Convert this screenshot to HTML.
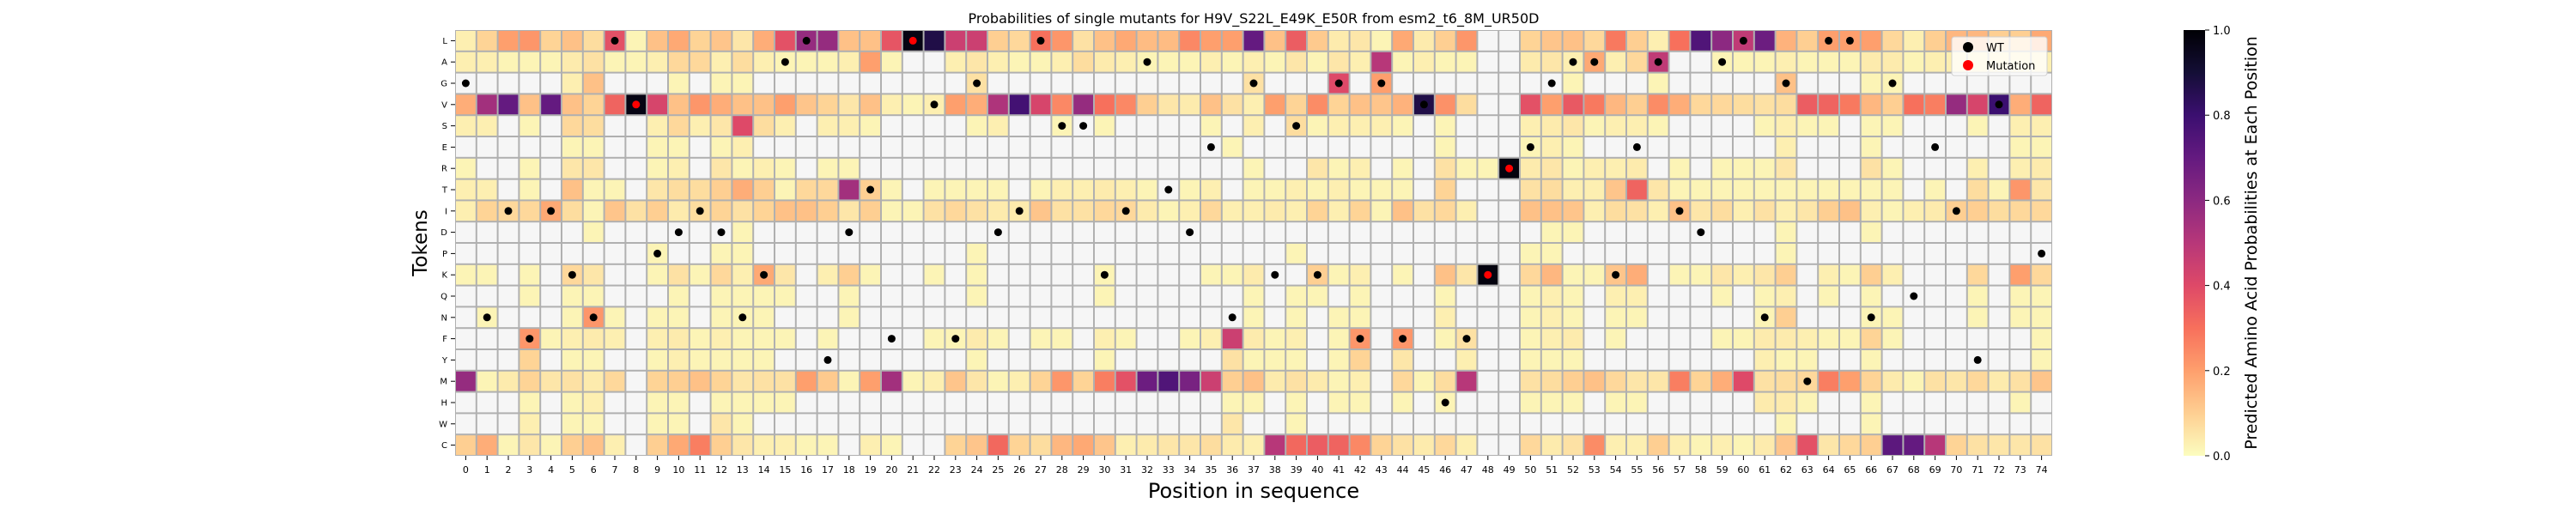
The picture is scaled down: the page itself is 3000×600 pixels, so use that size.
<!DOCTYPE html>
<html><head><meta charset="utf-8"><style>
html,body{margin:0;padding:0;background:#fff;}
svg{display:block;font-family:"DejaVu Sans","Liberation Sans",sans-serif;}
</style></head><body>
<svg id="chart" width="3000" height="600" viewBox="0 0 3000 600" xmlns="http://www.w3.org/2000/svg">
<defs>
<linearGradient id="cbgrad" x1="0" y1="1" x2="0" y2="0">
<stop offset="0" stop-color="#fcfdbf"/><stop offset="0.1" stop-color="#fecf92"/><stop offset="0.2" stop-color="#fe9f6d"/><stop offset="0.3" stop-color="#f7705c"/><stop offset="0.4" stop-color="#de4968"/><stop offset="0.5" stop-color="#b73779"/><stop offset="0.6" stop-color="#8c2981"/><stop offset="0.7" stop-color="#641a80"/><stop offset="0.8" stop-color="#3b0f70"/><stop offset="0.9" stop-color="#140e36"/><stop offset="1" stop-color="#000004"/>
</linearGradient>
</defs>
<text x="1460" y="27" font-size="16" text-anchor="middle">Probabilities of single mutants for H9V_S22L_E49K_E50R from esm2_t6_8M_UR50D</text>
<g id="cells"></g>
<g id="yaxis"></g>
<g id="xaxis"></g>
<g id="dots"></g>
<text x="0" y="0" font-size="23" text-anchor="middle" transform="translate(497,283) rotate(-90)">Tokens</text>
<text x="1460" y="580" font-size="24" text-anchor="middle">Position in sequence</text>
<g>
<rect x="2273" y="43" width="111" height="45" rx="3" fill="#fff" fill-opacity="0.8" stroke="#d0d0d0" stroke-width="1"/>
<circle cx="2292" cy="55" r="6" fill="#000"/>
<text x="2313" y="60" font-size="13">WT</text>
<circle cx="2292" cy="76" r="6" fill="#ff0000"/>
<text x="2313" y="81" font-size="13">Mutation</text>
</g>
<g id="cbar">
<rect x="2543" y="35" width="25" height="496" fill="url(#cbgrad)"/>
</g>
<text x="0" y="0" font-size="19" text-anchor="middle" transform="translate(2628,283) rotate(-90)">Predicted Amino Acid Probabilities at Each Position</text>
</svg>
<script>
const _ = null;
const tokens = ['L','A','G','V','S','E','R','T','I','D','P','K','Q','N','F','Y','M','H','W','C'];
const positions = Array.from({length:75},(v,i)=>i);
const rowL=[.03,.09,.2,.22,.09,.13,.07,.38,.02,.13,.18,.09,.12,.05,.17,.38,.58,.58,.13,.13,.37,.97,.87,.45,.45,.1,.08,.3,.22,.06,.13,.18,.14,.14,.25,.2,.2,.7,.13,.35,.11,.04,.05,.02,.18,.04,.1,.22,_,_,.09,.12,.13,.08,.28,.1,.03,.3,.75,.6,.48,.68,.16,.1,.2,.2,.2,.08,.03,.1,.15,.15,.1,.1,.18];
const rowA=[.03,.03,.02,.02,.02,.04,.06,.02,.02,.03,.08,.08,.03,.07,.03,.02,.02,.02,.03,.2,.02,_,_,.03,.05,.03,.02,.02,.03,.07,.04,.03,.02,.02,.02,.03,.02,.03,.02,.05,.02,.05,.03,.5,.02,.03,.02,.02,_,_,.04,.05,.03,.18,.03,.08,.48,_,_,.02,.02,.02,.03,.02,.02,.02,.04,.04,.02,.03,.03,.03,.03,.03,.03];
const rowG=[_,_,_,_,_,.03,.13,_,_,_,.02,_,.02,.02,_,_,_,_,_,_,_,_,_,_,.06,_,_,_,_,_,_,_,_,_,_,_,_,.06,_,_,_,.4,_,.2,_,_,_,_,_,_,_,_,.02,_,_,_,.02,_,_,_,_,_,.13,_,_,_,.02,.02,_,_,_,_,_,_,_];
const rowV=[.17,.55,.7,.13,.7,.13,.09,.33,.97,.42,.13,.22,.17,.13,.13,.2,.12,.09,.05,.13,.03,.02,.03,.2,.17,.52,.78,.42,.25,.58,.3,.25,.1,.05,.04,.13,.06,.03,.2,.09,.24,.09,.13,.12,.16,.87,.23,.07,_,_,.38,.2,.36,.28,.15,.1,.24,.17,.08,.08,.07,.06,.07,.35,.33,.28,.15,.1,.3,.27,.58,.42,.8,.17,.33];
const rowS=[.03,.03,_,.02,_,.08,.07,_,_,.03,.08,.03,.05,.4,.07,.03,_,.03,.03,.02,_,_,_,_,.02,.03,_,_,.02,_,.02,_,_,_,_,.02,_,.03,_,.07,.02,.03,.03,.03,.02,_,.02,_,_,_,.03,.04,.05,.02,.03,.03,.02,_,_,_,_,.02,.03,.02,.02,_,.02,.02,_,_,_,.02,_,.03,.03];
const rowE=[_,_,_,_,_,.02,.02,_,_,.02,.02,_,.02,.03,_,_,_,_,_,_,_,_,_,_,_,_,_,_,_,_,_,_,_,_,_,_,.02,_,_,_,_,_,_,_,_,_,.02,_,_,_,.02,.03,.02,_,_,_,_,_,_,_,_,_,.03,_,_,_,.02,_,_,_,_,_,_,.02,.02];
const rowR=[.02,_,_,.02,_,.05,.05,_,_,.02,.03,_,.05,.02,.03,.02,_,.02,.02,_,_,_,_,_,_,_,_,_,_,_,_,_,_,_,_,_,_,.02,_,_,.05,.02,.03,_,.02,_,.06,.02,.02,.98,.04,.05,.02,.03,.03,.04,_,.02,_,.02,.02,.02,.05,_,_,_,.06,.02,_,_,_,.03,_,.03,.04];
const rowT=[.03,.03,_,.02,_,.13,.02,.02,_,.05,.07,.07,.1,.17,.1,.02,.08,.08,.55,.1,.02,_,.02,.02,.02,.02,_,.02,.03,.03,.04,.03,.02,_,.02,.03,_,.02,.02,.03,.02,.03,.02,.02,.02,_,.09,_,_,_,.06,.07,.03,.03,.12,.33,.05,.02,.02,.02,.02,.02,.02,.02,.02,.02,.02,.02,_,.02,_,.07,.02,.22,.05];
const rowI=[.03,.09,.08,.08,.18,.07,.02,.12,.06,.1,.04,.07,.09,.06,.09,.13,.13,.1,.05,.1,.02,.02,.06,.08,.06,.04,.04,.12,.06,.06,.08,.08,.04,.02,.03,.08,.03,.03,.04,.03,.09,.03,.09,.02,.13,.06,.08,.03,_,_,.13,.13,.12,.03,.07,.06,.03,.13,.05,.07,.03,.06,.03,.05,.1,.13,.03,.02,.03,.04,.1,.1,.07,.08,.08];
const rowD=[_,_,_,_,_,_,.02,_,_,_,_,_,_,.02,_,_,_,_,_,_,_,_,_,_,_,_,_,_,_,_,_,_,_,_,_,_,_,_,_,_,_,_,_,_,_,_,_,_,_,_,_,.02,.02,_,_,_,_,_,_,_,_,_,.02,_,_,_,.02,_,_,_,_,_,_,_,_];
const rowP=[_,_,_,_,_,_,_,_,_,.02,_,_,.02,.02,_,_,_,_,_,_,_,_,_,_,.02,_,_,_,_,_,_,_,_,_,_,_,_,_,_,.02,_,_,_,_,_,_,_,_,_,_,.02,.02,_,_,_,_,_,_,_,_,_,_,.02,_,_,_,_,_,_,_,_,_,_,_,_];
const rowK=[.02,.02,_,.02,_,.08,.05,_,_,.02,.06,.02,.08,.03,.18,.05,_,.03,.1,.02,_,_,.02,_,.02,_,_,_,_,_,.02,_,_,_,_,.02,.02,.04,_,_,.1,.02,.03,_,.02,_,.13,.05,.98,_,.08,.15,.02,.02,.12,.17,_,.02,.02,.05,.03,.05,.1,_,.03,.02,.1,.03,_,_,_,.08,_,.2,.08];
const rowQ=[_,_,_,.02,_,.02,.02,_,_,_,.02,_,.02,.02,.02,.02,_,_,.02,_,_,_,_,_,.02,_,_,_,_,_,.02,_,_,_,_,_,_,.02,_,.02,.02,_,.02,_,_,_,.02,_,_,_,.02,.03,.02,_,.03,.03,_,_,_,.02,_,.02,.03,_,.02,_,.02,_,_,_,_,.02,_,.02,.02];
const rowN=[_,.02,_,_,_,.02,.22,.02,_,.02,.02,_,.02,.02,.02,_,_,_,.02,_,_,_,_,_,_,_,_,_,_,_,_,_,_,_,_,_,_,.02,_,.02,_,.02,.02,_,_,_,.03,_,_,_,.02,.03,.02,_,.02,.02,_,_,_,_,_,.02,.1,_,_,_,.02,.02,_,_,_,.02,_,.02,.02];
const rowF=[_,_,_,.22,.02,.03,.04,.03,_,.03,.04,.02,.03,.02,.02,.02,_,.02,_,_,_,_,.02,.02,.04,.02,_,.02,.02,_,.03,.02,_,_,.02,.03,.45,.04,.02,.03,_,.02,.22,_,.22,_,.02,.06,_,_,.02,.03,.04,_,.02,_,_,_,_,.02,.02,.04,.04,.03,.02,.02,.09,.02,_,_,_,_,_,_,.02];
const rowY=[_,_,_,.09,_,.02,.02,_,_,.02,.03,.02,.02,.02,.02,_,_,_,_,_,_,_,_,_,.02,_,_,_,_,_,.02,_,_,_,_,_,.06,.02,.02,.02,_,.02,.09,_,.05,_,_,.03,_,_,.02,.02,.02,_,_,_,_,_,_,_,_,.03,.02,.02,_,_,.02,_,_,_,_,_,_,_,.02];
const rowM=[.58,.02,.04,.09,.05,.06,.04,.08,_,.09,.1,.13,.09,.05,.06,.06,.2,.11,.02,.2,.55,.02,.03,.12,.05,.02,.03,.09,.22,.09,.27,.38,.68,.75,.65,.45,.1,.13,.04,.06,.04,.02,.03,_,.08,.02,.07,.5,_,_,.06,.07,.1,.13,.08,.05,.05,.27,.09,.17,.4,.06,.07,.08,.27,.2,.09,.04,.02,.06,.05,.08,.04,.06,.12];
const rowH=[_,_,_,.02,_,.02,.03,_,_,.02,.02,_,.02,.02,.02,.02,_,_,_,_,_,_,_,_,_,_,_,_,_,_,_,_,_,_,_,_,.02,.02,_,.02,_,.02,.02,_,.02,_,.02,_,_,_,.02,.02,.02,_,.02,.02,_,_,_,_,_,.04,.04,.02,_,_,.02,_,_,_,_,_,_,.02,_];
const rowW=[_,_,_,.03,_,.02,.02,_,_,.02,.02,_,.05,.02,_,_,_,_,_,_,_,_,_,_,_,_,_,_,_,_,_,_,_,_,_,_,.05,_,_,.02,_,_,_,_,_,_,_,_,_,_,_,_,_,_,_,_,_,_,_,_,_,_,.02,_,_,_,.02,_,_,_,_,_,_,_,_];
const rowC=[.1,.17,.02,.05,.02,.1,.13,.03,_,.1,.18,.27,.1,.05,.03,.03,.02,.02,_,.03,.02,_,_,.09,.12,.32,.09,.07,.15,.18,.12,.03,.04,.05,.05,.07,.04,.03,.5,.32,.35,.33,.25,.09,.06,.04,.08,.03,_,_,.08,.04,.06,.24,.03,.03,.1,.03,.02,.03,.02,.04,.12,.38,.05,.08,.1,.72,.7,.5,.09,.06,.05,.05,.06];
const wildType=['G','N','I','F','I','K','N','L',_,'P','D','I','D','N','K','A','L','Y','D','T','F',_,'V','F','G','D','I','L','S','S','K','I','A','T','D','E','N','G','K','S','K','G','F','G','F','V','H','F',_,_,'E','G','A','A','K','E','A','I','D','A','L','N','G','M','L','L','N','G','Q','E','I','Y','V',_,'P'];
const mutPositions=[8,21,48,49];
const mutTokens=['V','L','K','R'];
const cbTicks=[0,0.2,0.4,0.6,0.8,1.0];

const rows=[rowL,rowA,rowG,rowV,rowS,rowE,rowR,rowT,rowI,rowD,rowP,rowK,rowQ,rowN,rowF,rowY,rowM,rowH,rowW,rowC];
const X0=530,X1=2390,Y0=35,Y1=531;
const cw=(X1-X0)/positions.length, ch=(Y1-Y0)/tokens.length;
function xPos(i){return X0+i*cw;}
function yPos(j){return Y0+j*ch;}
const stops=['#000004','#140e36','#3b0f70','#641a80','#8c2981','#b73779','#de4968','#f7705c','#fe9f6d','#fecf92','#fcfdbf'];
function hex(h){return [parseInt(h.substr(1,2),16),parseInt(h.substr(3,2),16),parseInt(h.substr(5,2),16)];}
function color(v){
  let t=1-Math.max(0,Math.min(1,v)); let s=t*10; let i=Math.min(9,Math.floor(s)); let f=s-i;
  const a=hex(stops[i]),b=hex(stops[i+1]);
  return 'rgb('+a.map((c,k)=>Math.round(c+(b[k]-c)*f)).join(',')+')';
}
const NS='http://www.w3.org/2000/svg';
function mk(tag,attrs,parent){const e=document.createElementNS(NS,tag);for(const k in attrs)e.setAttribute(k,attrs[k]);parent.appendChild(e);return e;}
const cells=document.getElementById('cells');
const bg=mk('rect',{x:X0,y:Y0,width:X1-X0,height:Y1-Y0,fill:'#b0b0b0'},cells);


rows.forEach((row,j)=>{
  row.forEach((v,i)=>{
    const r=mk('rect',{x:(xPos(i)+1).toFixed(2),y:(yPos(j)+1).toFixed(2),width:(cw-2).toFixed(2),height:(ch-2).toFixed(2),fill:v===null?'#f6f6f6':color(v)},cells);
    
    
  });
});
const yax=document.getElementById('yaxis');
tokens.forEach((t,j)=>{
  const cy=yPos(j)+ch/2;
  mk('line',{x1:X0-5,x2:X0,y1:cy,y2:cy,stroke:'#000','stroke-width':1},yax);
  const tx=mk('text',{x:X0-9,y:cy+3.5,'font-size':10,'text-anchor':'end'},yax);
  tx.textContent=t;
  
  
});
const xax=document.getElementById('xaxis');
positions.forEach(i=>{
  const cx=xPos(i)+cw/2;
  mk('line',{x1:cx,x2:cx,y1:Y1,y2:Y1+5,stroke:'#000','stroke-width':1},xax);
  const tx=mk('text',{x:cx,y:Y1+20,'font-size':11,'text-anchor':'middle'},xax);
  tx.textContent=String(i);
  
  
});
const dots=document.getElementById('dots');
wildType.forEach((t,i)=>{
  if(t===null)return;
  const j=tokens.indexOf(t);
  const c=mk('circle',{cx:xPos(i)+cw/2,cy:yPos(j)+ch/2,r:4.5,fill:'#000'},dots);
  
  
});
mutPositions.forEach((p,k)=>{
  const j=tokens.indexOf(mutTokens[k]);
  const c=mk('circle',{cx:xPos(p)+cw/2,cy:yPos(j)+ch/2,r:4.5,fill:'#ff0000'},dots);
  
  
});
const cbar=document.getElementById('cbar');
cbTicks.forEach(v=>{
  const y=Y1-v*(Y1-Y0);
  mk('line',{x1:2568,x2:2573,y1:y,y2:y,stroke:'#000','stroke-width':1},cbar);
  const tx=mk('text',{x:2577,y:y+5,'font-size':13},cbar);
  tx.textContent=v.toFixed(1);
  
  
});
</script>
</body></html>
